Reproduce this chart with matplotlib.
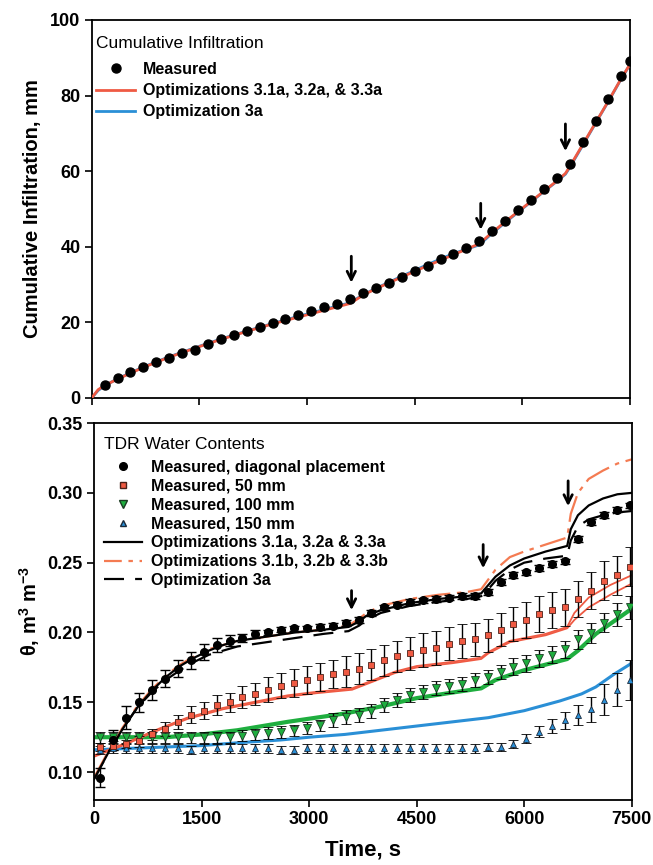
import matplotlib
matplotlib.use("Agg")
import matplotlib.pyplot as plt
from matplotlib.lines import Line2D

plt.rcParams["font.family"] = ["Liberation Sans", "DejaVu Sans"]
plt.rcParams["mathtext.fontset"] = "custom"
plt.rcParams["mathtext.rm"] = "Liberation Sans:bold"
plt.rcParams["mathtext.it"] = "Liberation Sans:bold"
plt.rcParams["mathtext.bf"] = "Liberation Sans:bold"

# ---- top panel: cumulative infiltration ----
t_inf = [180, 360, 540, 720, 900, 1080, 1260, 1440, 1620, 1800, 1980, 2160, 2340, 2520,
         2700, 2880, 3060, 3240, 3420, 3600, 3780, 3960, 4140, 4320, 4500, 4680, 4860,
         5040, 5220, 5400, 5580, 5760, 5940, 6120, 6300, 6480, 6660, 6840, 7020, 7200,
         7380, 7500]
inf_meas = [3.4, 5.3, 6.9, 8.2, 9.5, 10.7, 12.0, 12.8, 14.4, 15.6, 16.6, 17.8, 18.8, 19.9,
            20.9, 21.9, 23.0, 24.1, 24.8, 26.1, 27.7, 29.1, 30.5, 32.1, 33.7, 35.0, 36.7,
            38.1, 39.6, 41.4, 44.2, 46.9, 49.6, 52.4, 55.3, 58.2, 61.8, 67.6, 73.2, 79.1,
            85.3, 89.1]

t_inf_mod = [0, 90, 180, 360, 720, 1080, 1440, 1800, 2160, 2520, 2880, 3240, 3600, 3780,
             3960, 4320, 4680, 5040, 5400, 5580, 5760, 6120, 6480, 6600, 6660, 6840, 7020,
             7200, 7380, 7500]
inf_opt_a = [0, 2.2, 3.3, 5.0, 8.1, 10.8, 13.2, 15.5, 17.6, 19.6, 21.4, 23.2, 25.0, 27.2,
             28.9, 32.0, 35.0, 37.9, 40.8, 43.8, 46.6, 52.0, 57.4, 59.4, 61.2, 67.0, 72.8,
             78.6, 84.6, 88.3]
inf_opt_3a = [0, 2.0, 3.2, 5.1, 8.2, 10.9, 13.3, 15.6, 17.7, 19.7, 21.6, 23.4, 25.2, 27.3,
              29.0, 32.2, 35.3, 38.2, 40.5, 43.6, 46.4, 51.9, 57.3, 59.2, 61.0, 66.8, 72.7,
              78.5, 84.5, 88.2]

# ---- bottom panel: TDR water contents ----
t_tdr = [90, 270, 450, 630, 810, 990, 1170, 1350, 1530, 1710, 1890, 2070, 2250, 2430,
         2610, 2790, 2970, 3150, 3330, 3510, 3690, 3870, 4050, 4230, 4410, 4590, 4770,
         4950, 5130, 5310, 5490, 5670, 5850, 6030, 6210, 6390, 6570, 6750, 6930, 7110,
         7290, 7470]
diag = [0.096, 0.123, 0.139, 0.150, 0.159, 0.167, 0.174, 0.180, 0.186, 0.191, 0.194, 0.196,
        0.199, 0.200, 0.202, 0.203, 0.203, 0.204, 0.205, 0.207, 0.209, 0.214, 0.218, 0.220,
        0.222, 0.223, 0.224, 0.225, 0.226, 0.226, 0.229, 0.236, 0.241, 0.243, 0.246, 0.249,
        0.251, 0.267, 0.279, 0.284, 0.288, 0.291]
diag_err = [0.007, 0.007, 0.008, 0.007, 0.007, 0.006, 0.006, 0.006, 0.006, 0.005, 0.004,
            0.003, 0.003, 0.002, 0.002, 0.002, 0.002, 0.002, 0.002, 0.002, 0.002, 0.002,
            0.002, 0.002, 0.002, 0.002, 0.002, 0.002, 0.002, 0.002, 0.002, 0.002, 0.002,
            0.002, 0.002, 0.002, 0.002, 0.002, 0.002, 0.002, 0.002, 0.002]
d50 = [0.118, 0.119, 0.120, 0.122, 0.127, 0.131, 0.136, 0.141, 0.144, 0.148, 0.150, 0.154,
       0.156, 0.159, 0.162, 0.1635, 0.166, 0.168, 0.170, 0.172, 0.174, 0.177, 0.180, 0.183,
       0.185, 0.1875, 0.189, 0.192, 0.194, 0.195, 0.198, 0.202, 0.206, 0.209, 0.213, 0.216,
       0.218, 0.224, 0.230, 0.237, 0.241, 0.247]
d50_err = [0.003, 0.003, 0.003, 0.004, 0.004, 0.005, 0.005, 0.006, 0.006, 0.007, 0.007,
           0.008, 0.008, 0.009, 0.009, 0.010, 0.010, 0.010, 0.010, 0.011, 0.011, 0.011,
           0.011, 0.011, 0.012, 0.012, 0.012, 0.012, 0.012, 0.012, 0.012, 0.012, 0.012,
           0.013, 0.013, 0.013, 0.013, 0.013, 0.013, 0.014, 0.014, 0.014]
d100 = [0.125, 0.125, 0.125, 0.125, 0.125, 0.125, 0.125, 0.125, 0.125, 0.125, 0.125, 0.126,
        0.127, 0.128, 0.1287, 0.130, 0.1316, 0.1335, 0.137, 0.1395, 0.141, 0.144, 0.148,
        0.1515, 0.155, 0.1575, 0.160, 0.162, 0.163, 0.166, 0.168, 0.172, 0.1755, 0.178,
        0.1815, 0.184, 0.188, 0.195, 0.1995, 0.207, 0.213, 0.218]
d100_err = [0.004, 0.004, 0.004, 0.004, 0.004, 0.004, 0.004, 0.004, 0.004, 0.004, 0.004,
            0.004, 0.004, 0.004, 0.004, 0.004, 0.004, 0.004, 0.005, 0.005, 0.005, 0.005,
            0.005, 0.005, 0.005, 0.005, 0.005, 0.005, 0.005, 0.005, 0.005, 0.005, 0.006,
            0.006, 0.006, 0.006, 0.006, 0.007, 0.007, 0.007, 0.008, 0.008]
d150 = [0.116, 0.117, 0.117, 0.117, 0.117, 0.117, 0.117, 0.116, 0.117, 0.117, 0.117, 0.117,
        0.117, 0.117, 0.116, 0.116, 0.117, 0.117, 0.117, 0.117, 0.117, 0.117, 0.117, 0.117,
        0.117, 0.117, 0.117, 0.117, 0.117, 0.117, 0.118, 0.118, 0.120, 0.124, 0.129, 0.133,
        0.137, 0.141, 0.145, 0.152, 0.159, 0.166]
d150_err = [0.003, 0.003, 0.003, 0.003, 0.003, 0.003, 0.003, 0.003, 0.003, 0.003, 0.003,
            0.003, 0.003, 0.003, 0.003, 0.003, 0.003, 0.003, 0.003, 0.003, 0.003, 0.003,
            0.003, 0.003, 0.003, 0.003, 0.003, 0.003, 0.003, 0.003, 0.003, 0.003, 0.003,
            0.003, 0.004, 0.005, 0.006, 0.007, 0.009, 0.011, 0.012, 0.014]

# model curves, diagonal placement
t_diag_mod = [0, 200, 400, 600, 800, 1000, 1200, 1400, 1600, 1800, 2000, 2400, 2800, 3200,
              3550, 3700, 3800, 4000, 4400, 4800, 5200, 5400, 5500, 5600, 5800, 6000, 6300,
              6600, 6650, 6750, 6900, 7100, 7300, 7500]
diag_opt_a = [0.095, 0.114, 0.131, 0.146, 0.158, 0.168, 0.176, 0.182, 0.187, 0.191, 0.194,
              0.197, 0.200, 0.202, 0.204, 0.208, 0.212, 0.216, 0.221, 0.224, 0.226, 0.228,
              0.234, 0.240, 0.248, 0.253, 0.258, 0.262, 0.274, 0.284, 0.291, 0.296, 0.299,
              0.300]
diag_opt_b = [0.096, 0.115, 0.132, 0.147, 0.159, 0.169, 0.177, 0.183, 0.188, 0.191, 0.194,
              0.197, 0.200, 0.202, 0.205, 0.210, 0.214, 0.219, 0.224, 0.227, 0.229, 0.231,
              0.238, 0.245, 0.254, 0.258, 0.263, 0.268, 0.285, 0.300, 0.310, 0.316, 0.321,
              0.324]
diag_opt_3a = [0.095, 0.114, 0.131, 0.146, 0.157, 0.166, 0.173, 0.179, 0.184, 0.187, 0.190,
               0.193, 0.196, 0.199, 0.201, 0.205, 0.209, 0.214, 0.219, 0.222, 0.224, 0.226,
               0.231, 0.237, 0.245, 0.250, 0.253, 0.255, 0.266, 0.276, 0.281, 0.284, 0.286,
               0.287]

t50_mod = [0, 400, 900, 1300, 1800, 2300, 2700, 3100, 3600, 3800, 4000, 4200, 4500, 5000,
           5400, 5500, 5800, 6300, 6600, 6700, 6900, 7200, 7500]
m50_a = [0.112, 0.120, 0.131, 0.139, 0.146, 0.151, 0.155, 0.1575, 0.160, 0.164, 0.168, 0.172,
         0.176, 0.179, 0.182, 0.186, 0.194, 0.199, 0.204, 0.214, 0.225, 0.234, 0.241]
m50_b = [0.111, 0.119, 0.130, 0.138, 0.145, 0.150, 0.154, 0.1565, 0.159, 0.163, 0.167, 0.171,
         0.175, 0.178, 0.181, 0.185, 0.193, 0.198, 0.203, 0.209, 0.218, 0.227, 0.235]

t100_mod = [0, 500, 1000, 1500, 2000, 2700, 3500, 4000, 4500, 5000, 5400, 5600, 6000, 6600,
            6750, 7000, 7500]
m100 = [0.125, 0.125, 0.125, 0.127, 0.130, 0.136, 0.142, 0.147, 0.153, 0.157, 0.160, 0.166,
        0.173, 0.181, 0.187, 0.199, 0.217]

t150_mod = [0, 500, 1000, 1500, 2000, 2600, 3000, 3500, 4000, 4500, 5000, 5500, 6000, 6500,
            6800, 7000, 7250, 7500]
m150 = [0.116, 0.117, 0.118, 0.119, 0.121, 0.123, 0.125, 0.127, 0.130, 0.133, 0.136, 0.139,
        0.144, 0.151, 0.156, 0.161, 0.170, 0.178]

# arrows marking step changes (time, tail, tip)
arrows_top = [(3617, 37.5, 30.5), (5420, 51.5, 44.5), (6600, 72.5, 65.3)]
arrows_bot = [(3592, 0.2300, 0.2160), (5428, 0.263, 0.246), (6613, 0.3086, 0.2905)]

xticks = [0, 1500, 3000, 4500, 6000, 7500]

RED = "#ef5a43"
ORANGE = "#f47b52"
GREEN = "#1fae3f"
BLUE = "#2a8fd6"

fig = plt.figure(figsize=(6.53, 8.65), dpi=100)
ax1 = fig.add_axes([0.1404, 0.5399, 0.8244, 0.4370])
ax2 = fig.add_axes([0.1440, 0.0751, 0.8234, 0.4358])

for ax in (ax1, ax2):
    for s in ax.spines.values():
        s.set_linewidth(1.3)
    ax.tick_params(direction="out", length=5, width=1.2, labelsize=13, pad=3,
                   top=False, right=False)
    ax.set_xlim(0, 7500)
    ax.set_xticks(xticks)

arrow_style = dict(arrowstyle="->,head_width=0.3,head_length=0.6", lw=2,
                   color="black", shrinkA=0, shrinkB=0)

# top
ax1.plot(t_inf_mod, inf_opt_3a, color=BLUE, lw=2, zorder=2)
ax1.plot(t_inf_mod, inf_opt_a, color=RED, lw=2, zorder=3)
ax1.plot(t_inf, inf_meas, "o", color="black", ms=6.5, zorder=4)
ax1.set_ylim(0, 100)
ax1.set_yticks([0, 20, 40, 60, 80, 100])
ax1.set_xticklabels([])
ax1.set_yticklabels([str(v) for v in [0, 20, 40, 60, 80, 100]], fontweight="bold")
ax1.set_ylabel("Cumulative Infiltration, mm", fontsize=14.5, fontweight="bold", labelpad=6)
for t, y0, y1 in arrows_top:
    ax1.annotate("", xy=(t, y1), xytext=(t, y0), arrowprops=arrow_style)

h_top = [Line2D([], [], ls="none", marker="o", color="black", ms=6.5),
         Line2D([], [], color=RED, lw=2),
         Line2D([], [], color=BLUE, lw=2)]
leg1 = ax1.legend(h_top, ["Measured", "Optimizations 3.1a, 3.2a, & 3.3a", "Optimization 3a"],
                  title="Cumulative Infiltration", loc="upper left",
                  bbox_to_anchor=(-0.021, 1.0), frameon=False,
                  prop={"size": 11.5, "weight": "bold"}, title_fontsize=12.5,
                  handlelength=2.4, handletextpad=0.5, labelspacing=0.38,
                  borderaxespad=0.2, borderpad=0.8)
leg1._legend_box.align = "left"
leg1._legend_box.sep = 8

# bottom
ax2.plot(t150_mod, m150, color=BLUE, lw=2.2, zorder=2)
ax2.plot(t100_mod, m100, color=GREEN, lw=3, zorder=2)
ax2.plot(t50_mod, m50_b, color=RED, lw=1.3, zorder=2)
ax2.plot(t50_mod, m50_a, color=RED, lw=1.3, zorder=2)
ax2.plot(t_diag_mod, diag_opt_3a, color="black", lw=1.6, dashes=(9, 5), zorder=2)
ax2.plot(t_diag_mod, diag_opt_b, color=ORANGE, lw=1.6, dashes=(12, 3, 2, 3), zorder=2)
ax2.plot(t_diag_mod, diag_opt_a, color="black", lw=1.6, zorder=2)

eb = dict(ecolor="black", elinewidth=1, capsize=3.5, capthick=1, ls="none", zorder=3)
ax2.errorbar(t_tdr, d150, yerr=d150_err, marker="^", ms=5, mfc=BLUE, mec="#1b2a3a",
             mew=0.6, **eb)
ax2.errorbar(t_tdr, d100, yerr=d100_err, marker="v", ms=5.5, mfc=GREEN, mec="#1b3a22",
             mew=0.6, **eb)
ax2.errorbar(t_tdr, d50, yerr=d50_err, marker="s", ms=4.5, mfc=RED, mec="#4a2018",
             mew=0.6, **eb)
ax2.errorbar(t_tdr, diag, yerr=diag_err, marker="o", ms=5.5, mfc="black", mec="black", **eb)

ax2.set_ylim(0.08, 0.35)
ax2.set_yticks([0.10, 0.15, 0.20, 0.25, 0.30, 0.35])
ax2.set_yticklabels(["0.10", "0.15", "0.20", "0.25", "0.30", "0.35"], fontweight="bold")
ax2.set_xticklabels([str(v) for v in xticks], fontweight="bold")
ax2.set_xlabel("Time, s", fontsize=16, fontweight="bold", labelpad=8)
ax2.set_ylabel(r"θ, m$^{3}$ m$^{-3}$", fontsize=14.5, fontweight="bold", labelpad=4)
for t, y0, y1 in arrows_bot:
    ax2.annotate("", xy=(t, y1), xytext=(t, y0), arrowprops=arrow_style)

h_bot = [Line2D([], [], ls="none", marker="o", color="black", ms=5.5),
         Line2D([], [], ls="none", marker="s", mfc=RED, mec="#4a2018", ms=4.5),
         Line2D([], [], ls="none", marker="v", mfc=GREEN, mec="#1b3a22", ms=5.5),
         Line2D([], [], ls="none", marker="^", mfc=BLUE, mec="#1b2a3a", ms=5),
         Line2D([], [], color="black", lw=1.6),
         Line2D([], [], color=ORANGE, lw=1.6, dashes=(8, 3, 2, 3)),
         Line2D([], [], color="black", lw=1.6, dashes=(9, 5))]
labels_bot = ["Measured, diagonal placement", "Measured, 50 mm", "Measured, 100 mm",
              "Measured, 150 mm", "Optimizations 3.1a, 3.2a & 3.3a",
              "Optimizations 3.1b, 3.2b & 3.3b", "Optimization 3a"]
leg2 = ax2.legend(h_bot, labels_bot, title="TDR Water Contents", loc="upper left",
                  bbox_to_anchor=(-0.008, 1.0), frameon=False,
                  prop={"size": 11.5, "weight": "bold"}, title_fontsize=12.5,
                  handlelength=2.4, handletextpad=0.55, labelspacing=0.24,
                  borderaxespad=0.3, borderpad=0.6)
leg2._legend_box.align = "left"
leg2._legend_box.sep = 5.5

fig.savefig("out.png", dpi=100)
